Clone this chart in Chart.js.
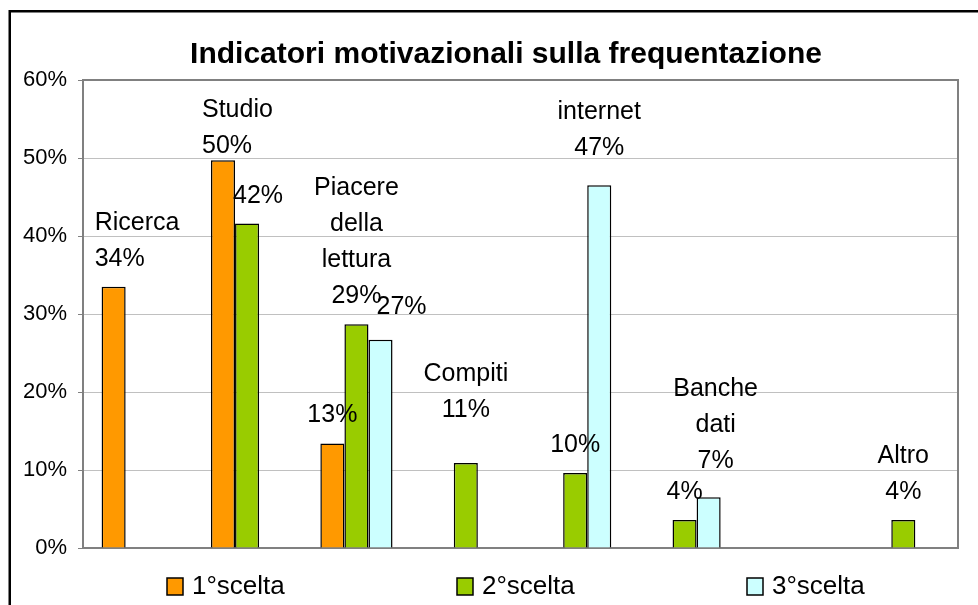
<!DOCTYPE html>
<html>
<head>
<meta charset="utf-8">
<script src="https://cdn.jsdelivr.net/npm/chart.js@4"></script>
<style>
  html, body { margin: 0; padding: 0; background: #fff; }
  #wrap { position: relative; width: 978px; height: 605px; }
</style>
</head>
<body>
<div id="wrap"><canvas id="myChart" width="978" height="605"></canvas></div>
<script>
// categorie (una vuota tra "Banche dati" e "Altro")
const categories = [['Ricerca'], ['Studio'], ['Piacere', 'della', 'lettura'], ['Compiti'], ['internet'], ['Banche', 'dati'], [''], ['Altro']];
const seriesNames = ['1°scelta', '2°scelta', '3°scelta'];
const prima = [33.5, 49.7, 13.4, null, null, null, null, null];
const seconda = [null, 41.6, 28.7, 10.9, 9.6, 3.6, null, 3.6];
const terza = [null, null, 26.7, null, 46.5, 6.5, null, null];
const yTicks = [0, 10, 20, 30, 40, 50, 60];

const FONT = '"Liberation Sans", Arial, sans-serif';

// spostamenti manuali delle etichette (come nel file Excel originale)
const labelNudge = {
  '0-0': { dx: -19, align: 'left' },
  '0-1': { dx: -21, align: 'left', gap: 7 },
  '1-1': { dx: 11 },
  '2-2': { dx: 21, gap: 26 },
  '1-3': { gap: 46 },
  '2-4': { gap: 30 },
  '2-5': { dx: 7, gap: 29 }
};

// cornice, bordo dell'area del grafico, titolo e legenda
const decorPlugin = {
  id: 'decor',
  beforeDraw(chart) {
    const ctx = chart.ctx;
    ctx.save();
    ctx.strokeStyle = '#000';
    ctx.lineWidth = 2.5;
    ctx.beginPath();
    ctx.moveTo(9.75, 605);
    ctx.lineTo(9.75, 11.25);
    ctx.lineTo(978, 11.25);
    ctx.stroke();
    ctx.restore();
  },
  beforeDatasetsDraw(chart) {
    const a = chart.chartArea;
    const ctx = chart.ctx;
    ctx.save();
    ctx.strokeStyle = '#808080';
    ctx.lineWidth = 2;
    ctx.strokeRect(a.left, a.top, a.right - a.left, a.bottom - a.top);
    ctx.restore();
  },
  afterDraw(chart) {
    const ctx = chart.ctx;
    ctx.save();
    // titolo
    ctx.fillStyle = '#000';
    ctx.font = 'bold 30px ' + FONT;
    ctx.textAlign = 'center';
    ctx.textBaseline = 'alphabetic';
    ctx.fillText('Indicatori motivazionali sulla frequentazione', 506, 63);
    // legenda
    const xs = [167, 457, 747];
    ctx.font = '26px ' + FONT;
    ctx.textAlign = 'left';
    chart.data.datasets.forEach((ds, i) => {
      ctx.fillStyle = ds.backgroundColor;
      ctx.fillRect(xs[i], 578, 16, 17);
      ctx.strokeStyle = '#000';
      ctx.lineWidth = 1.5;
      ctx.strokeRect(xs[i], 578, 16, 17);
      ctx.fillStyle = '#000';
      ctx.fillText(ds.label, xs[i] + 25, 594);
    });
    ctx.restore();
  }
};

// etichette dati: valore, e nome categoria sopra la barra più alta del gruppo
const labelPlugin = {
  id: 'barLabels',
  afterDatasetsDraw(chart) {
    const ctx = chart.ctx;
    const sets = chart.data.datasets;
    ctx.save();
    ctx.font = '25px ' + FONT;
    ctx.fillStyle = '#000';
    ctx.textBaseline = 'alphabetic';
    categories.forEach((cat, i) => {
      let top = -1;
      sets.forEach((ds, d) => {
        const v = ds.data[i];
        if (v != null && (top < 0 || v > sets[top].data[i])) top = d;
      });
      sets.forEach((ds, d) => {
        const v = ds.data[i];
        if (v == null) return;
        const bar = chart.getDatasetMeta(d).data[i];
        const n = labelNudge[d + '-' + i] || {};
        const lines = d === top ? cat.concat([Math.round(v) + '%']) : [Math.round(v) + '%'];
        ctx.textAlign = n.align || 'center';
        const x = bar.x + (n.dx || 0);
        let y = bar.y - (n.gap != null ? n.gap : 21);
        for (let k = lines.length - 1; k >= 0; k--) {
          ctx.fillText(lines[k], x, y);
          y -= 36;
        }
      });
    });
    ctx.restore();
  }
};

const ctx = document.getElementById('myChart').getContext('2d');
new Chart(ctx, {
  type: 'bar',
  data: {
    labels: categories.map(c => c.join(' ')),
    datasets: [
      { label: seriesNames[0], data: prima, backgroundColor: '#FF9900' },
      { label: seriesNames[1], data: seconda, backgroundColor: '#99CC00' },
      { label: seriesNames[2], data: terza, backgroundColor: '#CCFFFF' }
    ]
  },
  options: {
    responsive: false,
    animation: false,
    devicePixelRatio: 1,
    layout: { padding: { top: 80, bottom: 57, left: 0, right: 20 } },
    datasets: {
      bar: {
        borderColor: '#000',
        borderWidth: 1.5,
        barPercentage: 1,
        categoryPercentage: 0.66,
        skipNull: false
      }
    },
    plugins: {
      legend: { display: false },
      title: { display: false },
      tooltip: { enabled: false }
    },
    scales: {
      x: {
        ticks: { display: false },
        grid: { display: false },
        border: { display: true, color: '#808080', width: 2 },
        afterFit: s => { s.height = 0; }
      },
      y: {
        min: yTicks[0],
        max: yTicks[yTicks.length - 1],
        afterBuildTicks: s => { s.ticks = yTicks.map(v => ({ value: v })); },
        ticks: {
          callback: v => v + '%',
          color: '#000',
          font: { family: FONT, size: 22 },
          padding: 11
        },
        grid: { color: '#c0c0c0', tickColor: '#808080', tickLength: 5, lineWidth: 1 },
        border: { display: true, color: '#808080', width: 2 },
        afterFit: s => { s.width = 83; }
      }
    }
  },
  plugins: [decorPlugin, labelPlugin]
});
</script>
</body>
</html>
